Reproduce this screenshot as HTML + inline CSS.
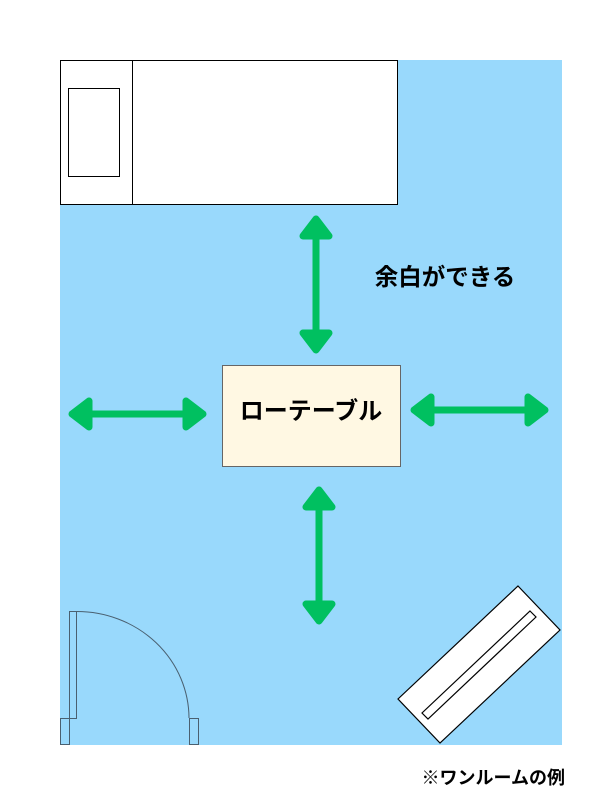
<!DOCTYPE html>
<html><head><meta charset="utf-8"><style>
html,body{margin:0;padding:0;background:#fff;}
svg{display:block;}
text{font-family:"Liberation Sans","Noto Sans CJK JP",sans-serif;font-weight:bold;}
</style></head><body>
<svg width="600" height="800" viewBox="0 0 600 800" xmlns="http://www.w3.org/2000/svg">
<rect x="60" y="60" width="502" height="685" fill="#99d9fc"/>
<rect x="60.5" y="60.5" width="337" height="144" fill="#fff" stroke="#000" stroke-width="1"/>
<line x1="132.5" y1="60" x2="132.5" y2="205" stroke="#000"/>
<rect x="68.5" y="88.5" width="51" height="88" fill="#fff" stroke="#000"/>
<rect x="222.5" y="365.5" width="178" height="101" fill="#fff8e3" stroke="#666"/>
<text x="311" y="419" font-size="24" text-anchor="middle" fill="#000">ローテーブル</text>
<text x="445" y="285" font-size="23.5" text-anchor="middle" fill="#000">余白ができる</text>
<text x="565" y="784" font-size="18" text-anchor="end" fill="#000">※ワンルームの例</text>
<g stroke="#00c060" stroke-width="7" fill="#00c060" stroke-linejoin="round">
<line x1="316" y1="235" x2="316" y2="335"/>
<polygon points="316,219 303,236 329,236"/>
<polygon points="316,350 303,333 329,333"/>
<line x1="88" y1="414" x2="188" y2="414"/>
<polygon points="72,414 89,401 89,427"/>
<polygon points="203,414 186,401 186,427"/>
<line x1="430" y1="410" x2="530" y2="410"/>
<polygon points="414,410 431,397 431,423"/>
<polygon points="545,410 528,397 528,423"/>
<line x1="319" y1="506" x2="319" y2="606"/>
<polygon points="319,490 306,507 332,507"/>
<polygon points="319,621 306,604 332,604"/>
</g>
<g fill="none" stroke="#4a6070" stroke-width="1">
<rect x="69.5" y="611.5" width="7" height="107"/>
<rect x="60.5" y="718.5" width="9" height="26"/>
<rect x="189.5" y="718.5" width="9" height="26"/>
<path d="M77 611.5 A112 107 0 0 1 189 718"/>
</g>
<polygon points="518,586 560,630 440,743 398,699" fill="#fff" stroke="#000" stroke-width="1.2"/>
<polygon points="530,611 536,617 428,719 422,713" fill="#fff" stroke="#000" stroke-width="1.2"/>
</svg>
</body></html>
